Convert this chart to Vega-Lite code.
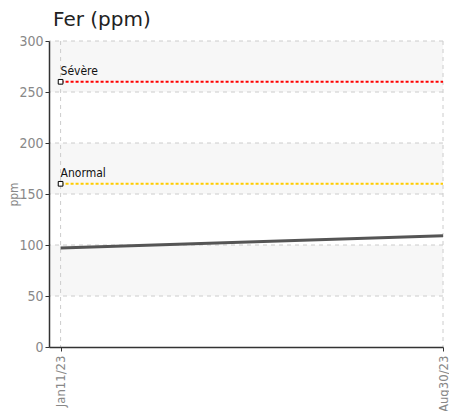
{
  "$schema": "https://vega.github.io/schema/vega-lite/v6.json",
  "width": 394,
  "height": 306,
  "autosize": "none",
  "padding": {"left": 49, "top": 41, "right": 6, "bottom": 64},
  "background": "white",
  "title": {
    "text": "Fer (ppm)",
    "anchor": "start",
    "frame": "group",
    "font": "DejaVu Sans",
    "fontSize": 20,
    "fontWeight": "normal",
    "color": "#222222",
    "dx": 4,
    "offset": 4
  },
  "config": {
    "view": {"stroke": null},
    "axis": {
      "labelFont": "Liberation Sans Narrow, DejaVu Sans Condensed, sans-serif",
      "titleFont": "Liberation Sans Narrow, DejaVu Sans Condensed, sans-serif",
      "labelColor": "#888888",
      "titleColor": "#888888",
      "labelFontSize": 13,
      "titleFontSize": 12,
      "titleFontWeight": "normal",
      "domainColor": "#333333",
      "domainWidth": 1.5,
      "tickColor": "#333333",
      "tickSize": 4
    }
  },
  "datasets": {
    "bands": [
      {"lo": 250, "hi": 300},
      {"lo": 150, "hi": 200},
      {"lo": 50, "hi": 100}
    ],
    "ygrid": [
      {"v": 50}, {"v": 100}, {"v": 150}, {"v": 200}, {"v": 250}, {"v": 300}
    ],
    "xgrid": [
      {"d": "2023-01-11"}, {"d": "2023-08-30"}
    ],
    "series": [
      {"date": "2023-01-11", "ppm": 97},
      {"date": "2023-08-30", "ppm": 109}
    ],
    "thresholds": [
      {"label": "Sévère", "value": 260, "start": "2023-01-11", "end": "2023-08-30", "color": "red"},
      {"label": "Anormal", "value": 160, "start": "2023-01-11", "end": "2023-08-30", "color": "gold"}
    ]
  },
  "layer": [
    {
      "data": {"name": "bands"},
      "mark": {"type": "rect", "fill": "#f7f7f7"},
      "encoding": {
        "y": {"field": "lo", "type": "quantitative", "scale": {"domain": [0, 300]}},
        "y2": {"field": "hi"}
      }
    },
    {
      "data": {"name": "ygrid"},
      "mark": {"type": "rule", "stroke": "#cccccc", "strokeWidth": 1, "strokeDash": [4, 4]},
      "encoding": {
        "y": {"field": "v", "type": "quantitative"}
      }
    },
    {
      "data": {"name": "xgrid"},
      "mark": {"type": "rule", "stroke": "#cccccc", "strokeWidth": 1, "strokeDash": [4, 4]},
      "encoding": {
        "x": {"field": "d", "type": "temporal"}
      }
    },
    {
      "data": {"name": "series"},
      "mark": {"type": "line", "color": "#555555", "strokeWidth": 3},
      "encoding": {
        "x": {
          "field": "date",
          "type": "temporal",
          "scale": {
            "type": "utc",
            "domain": [
              {"year": 2023, "month": 1, "date": 4, "utc": true},
              {"year": 2023, "month": 8, "date": 30, "utc": true}
            ]
          },
          "axis": {
            "title": null,
            "values": [
              {"year": 2023, "month": 1, "date": 11, "utc": true},
              {"year": 2023, "month": 8, "date": 30, "utc": true}
            ],
            "labelExpr": "utcFormat(datum.value, '%b%d/%y')",
            "labelAngle": -90,
            "labelAlign": "right",
            "labelBaseline": "middle",
            "labelPadding": 4,
            "grid": false,
            "zindex": 2
          }
        },
        "y": {
          "field": "ppm",
          "type": "quantitative",
          "scale": {"domain": [0, 300]},
          "axis": {
            "title": "ppm",
            "titleX": -36,
            "titleY": 153,
            "titleAngle": -90,
            "titleAlign": "center",
            "titleBaseline": "middle",
            "values": [0, 50, 100, 150, 200, 250, 300],
            "labelPadding": 2,
            "labelFontSize": 14,
            "grid": false,
            "zindex": 2
          }
        }
      }
    },
    {
      "data": {"name": "thresholds"},
      "mark": {"type": "rule", "strokeWidth": 2, "strokeDash": [3, 2]},
      "encoding": {
        "x": {"field": "start", "type": "temporal"},
        "x2": {"field": "end"},
        "y": {"field": "value", "type": "quantitative"},
        "color": {"field": "color", "type": "nominal", "scale": {"domain": ["red", "gold"], "range": ["#ff0000", "#ffcc00"]}, "legend": null}
      }
    },
    {
      "data": {"name": "thresholds"},
      "mark": {"type": "point", "shape": "square", "filled": true, "fill": "white", "stroke": "black", "strokeWidth": 1, "size": 22, "opacity": 1},
      "encoding": {
        "x": {"field": "start", "type": "temporal"},
        "y": {"field": "value", "type": "quantitative"}
      }
    },
    {
      "data": {"name": "thresholds"},
      "mark": {"type": "text", "align": "left", "baseline": "bottom", "dx": 0, "dy": -4, "fontSize": 12, "font": "Liberation Sans Narrow, DejaVu Sans Condensed, sans-serif", "color": "#111111"},
      "encoding": {
        "x": {"field": "start", "type": "temporal"},
        "y": {"field": "value", "type": "quantitative"},
        "text": {"field": "label"}
      }
    }
  ]
}
